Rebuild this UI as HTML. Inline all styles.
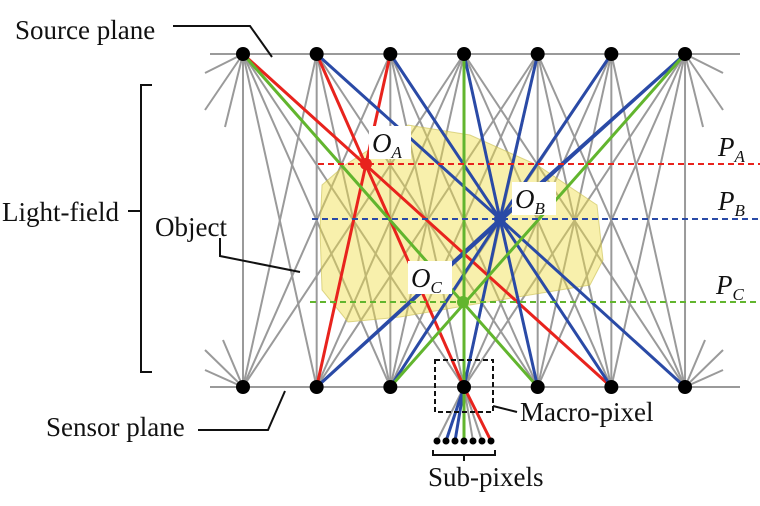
<!DOCTYPE html>
<html><head><meta charset="utf-8"><style>
html,body{margin:0;padding:0;background:#fff;width:760px;height:506px;overflow:hidden}
svg{display:block}
text{font-family:"Liberation Serif","DejaVu Serif",serif;font-size:27px;fill:#111}
.it{font-style:italic}
</style></head><body>
<svg id="s" width="760" height="506" viewBox="0 0 760 506" xmlns="http://www.w3.org/2000/svg">
<g id="gray" stroke="#9a9a9a" stroke-width="2" fill="none"></g>
<polygon points="322,185 345,165 408,125 470,135 537,165 597,205 603,260 590,285 470,305 400,317 348,322 322,290 320,230" fill="rgba(240,222,70,0.45)" stroke="rgba(200,190,80,0.6)" stroke-width="1"/>
<line x1="210" y1="54" x2="740" y2="54" stroke="#9a9a9a" stroke-width="2"/>
<line x1="210" y1="387" x2="740" y2="387" stroke="#9a9a9a" stroke-width="2"/>
<g id="col" stroke-width="3" fill="none"></g>
<line x1="318" y1="164" x2="760" y2="164" stroke="#e8231d" stroke-width="2" stroke-dasharray="6,4"/>
<line x1="312" y1="219" x2="760" y2="219" stroke="#2a4aa6" stroke-width="2" stroke-dasharray="6,4"/>
<line x1="310" y1="302" x2="760" y2="302" stroke="#62b52e" stroke-width="2" stroke-dasharray="6,4"/>
<circle cx="366" cy="164" r="6" fill="#e8231d"/>
<circle cx="500" cy="219" r="6" fill="#2a4aa6"/>
<circle cx="463" cy="302" r="6" fill="#62b52e"/>
<g id="dots" fill="#000"></g>
<rect x="369" y="126" width="42" height="33" fill="#fff"/>
<text x="372" y="152" class="it">O<tspan font-size="17" dy="6">A</tspan></text>
<rect x="512" y="182" width="44" height="33" fill="#fff"/>
<text x="515" y="208" class="it">O<tspan font-size="17" dy="6">B</tspan></text>
<rect x="408" y="261" width="44" height="33" fill="#fff"/>
<text x="411" y="287" class="it">O<tspan font-size="17" dy="6">C</tspan></text>
<text x="718" y="156" class="it">P<tspan font-size="17" dy="6">A</tspan></text>
<text x="718" y="210" class="it">P<tspan font-size="17" dy="6">B</tspan></text>
<text x="716" y="294" class="it">P<tspan font-size="17" dy="6">C</tspan></text>
<g stroke="#111" stroke-width="2" fill="none">
<polyline points="173,26 250,26 272,57"/>
<polyline points="152,85 141,85 141,372 152,372"/>
<line x1="128" y1="211" x2="141" y2="211"/>
<polyline points="220,238 220,256 300,272"/>
<polyline points="198,430 268,430 285,391"/>
<rect x="435" y="360" width="58" height="52" stroke-dasharray="5,3"/>
<line x1="493" y1="406" x2="517" y2="412"/>
<polyline points="433,450 433,455 495,455 495,450"/>
<line x1="464" y1="455" x2="464" y2="461"/>
</g>
<text x="15" y="39">Source plane</text>
<text x="2" y="221">Light-field</text>
<text x="155" y="236">Object</text>
<text x="46" y="436">Sensor plane</text>
<text x="520" y="421">Macro-pixel</text>
<text x="428" y="486">Sub-pixels</text>
</svg>
<script>
var NS="http://www.w3.org/2000/svg";
function L(g,x1,y1,x2,y2,c){var l=document.createElementNS(NS,"line");l.setAttribute("x1",x1);l.setAttribute("y1",y1);l.setAttribute("x2",x2);l.setAttribute("y2",y2);if(c)l.setAttribute("stroke",c);g.appendChild(l);}
var X=[];for(var i=0;i<7;i++)X.push(243+73.67*i);
var T=54,B=387,gray=document.getElementById("gray"),col=document.getElementById("col"),dots=document.getElementById("dots");
for(var i=0;i<7;i++)for(var k=-3;k<=3;k++){var j=i+k;if(j<0||j>6)continue;L(gray,X[i],T,X[j],B);}
var xr=X[6];
[[205,73],[205,110],[225,127]].forEach(function(p){L(gray,243,T,p[0],p[1]);L(gray,xr,T,xr+(243-p[0]),p[1]);});
[[205,350],[205,370],[223,340]].forEach(function(p){L(gray,243,B,p[0],p[1]);L(gray,xr,B,xr+(243-p[0]),p[1]);});
var sx=[];for(var k=0;k<7;k++)sx.push(437+9*k);
sx.forEach(function(x){L(gray,X[3],B,x,441);});
var R="#e8231d",Bl="#2a4aa6",G="#62b52e";
var cg=col;
L(cg,X[0],T,X[5],B,R);L(cg,X[1],T,X[3],B,R);L(cg,X[2],T,X[1],B,R);L(cg,X[3],B,sx[6],441,R);
var ob=[500,219];
for(var i=1;i<7;i++){L(cg,ob[0],ob[1],X[i],T,Bl);L(cg,ob[0],ob[1],X[i],B,Bl);}
L(cg,X[6],T,X[1],B,Bl);
L(cg,X[3],B,sx[1],441,Bl);L(cg,X[3],B,sx[2],441,Bl);
L(cg,X[0],T,X[4],B,G);L(cg,X[3],T,X[3],B,G);L(cg,X[6],T,X[2],B,G);L(cg,X[3],B,sx[3],441,G);
for(var i=0;i<7;i++){[T,B].forEach(function(y){var c=document.createElementNS(NS,"circle");c.setAttribute("cx",X[i]);c.setAttribute("cy",y);c.setAttribute("r",7);dots.appendChild(c);});}
sx.forEach(function(x){var c=document.createElementNS(NS,"circle");c.setAttribute("cx",x);c.setAttribute("cy",441);c.setAttribute("r",3.5);dots.appendChild(c);});
</script>
</body></html>
